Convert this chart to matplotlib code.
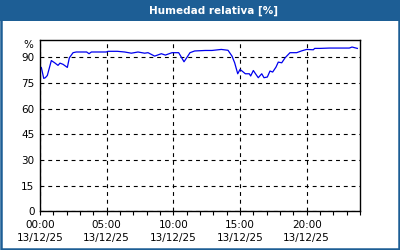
import matplotlib
matplotlib.use("Agg")
import matplotlib.pyplot as plt
from matplotlib.patches import Rectangle
from matplotlib.ticker import FixedLocator, MultipleLocator

# datos (hora del dia, humedad %)
hours = [0.0, 0.1, 0.28, 0.4, 0.55, 0.85, 1.1, 1.35, 1.5, 1.73,
         2.05, 2.2, 2.48, 2.72, 3.5, 3.68, 3.85, 4.97, 5.1, 5.8,
         6.35, 6.85, 7.35, 7.85, 8.1, 8.6, 9.1, 9.4, 9.9, 10.4,
         10.6, 10.8, 11.0, 11.25, 11.6, 12.4, 12.9, 13.6, 14.1, 14.4,
         14.6, 14.83, 15.0, 15.17, 15.4, 15.7, 15.8, 16.0, 16.2, 16.37,
         16.63, 16.8, 17.05, 17.25, 17.45, 17.7, 17.87, 18.13, 18.38, 18.75,
         19.25, 19.6, 20.0, 20.5, 20.6, 21.0, 21.7, 23.2, 23.4, 23.8]
humedad = [84.2, 84, 77.6, 78, 79.3, 88, 86.7, 85.2, 86.5, 85.8,
           84, 89.6, 92.6, 93, 93, 92, 93, 93, 93.4, 93.4,
           93, 92.3, 93, 92.3, 92.6, 90.6, 92, 91.2, 92.6, 92.6,
           90, 87.3, 89.6, 92.6, 93.6, 93.9, 93.9, 94.5, 94, 90.6,
           86.7, 80.3, 82.8, 81.8, 80.3, 80.3, 79, 82.2, 79.9, 78,
           80.3, 78, 78.4, 81.9, 81.3, 84.2, 87.1, 86.7, 89.6, 92.6,
           92.6, 93.6, 94.5, 94.3, 95.1, 95.1, 95.3, 95.3, 95.9, 95.1]

xticks = [0, 5, 10, 15, 20]
xlabels = ["00:00\n13/12/25", "05:00\n13/12/25", "10:00\n13/12/25",
           "15:00\n13/12/25", "20:00\n13/12/25"]
yticks = [0, 15, 30, 45, 60, 75, 90]

azul = "#1d5e95"

fig = plt.figure(figsize=(4, 2.5), dpi=100)
fig.patch.set_facecolor("white")

# barra de titulo y marco
fig.patches.append(Rectangle((0, 0.916), 1, 0.084, transform=fig.transFigure,
                             facecolor=azul, edgecolor="none", zorder=0))
fig.patches.append(Rectangle((0.002, 0.004), 0.996, 0.992, transform=fig.transFigure,
                             facecolor="none", edgecolor=azul, lw=1.8, zorder=0))
fig.text(0.533, 0.958, "Humedad relativa [%]", color="white", fontsize=7.5,
         fontweight="bold", ha="center", va="center")

ax = fig.add_axes([0.1, 0.1544, 0.8, 0.6856])
ax.plot(hours, humedad, color="#0000ee", lw=0.9)

ax.set_xlim(0, 24)
ax.set_ylim(0, 100)
ax.xaxis.set_major_locator(FixedLocator(xticks))
ax.set_xticklabels(xlabels, linespacing=1.35)
ax.xaxis.set_minor_locator(MultipleLocator(1))
ax.set_yticks(yticks)

ax.grid(True, which="major", color="black", linestyle=(0, (3.5, 3.5)), lw=0.8)
ax.tick_params(axis="x", which="both", length=3, width=0.8, direction="out",
               labelsize=7.5, pad=3)
ax.tick_params(axis="y", length=0, labelsize=7.5, pad=4)
for s in ax.spines.values():
    s.set_linewidth(1.0)
    s.set_color("black")

ax.text(-0.02, 0.97, "%", transform=ax.transAxes, ha="right", va="center",
        fontsize=7.5)

fig.savefig("out.png", dpi=100)
